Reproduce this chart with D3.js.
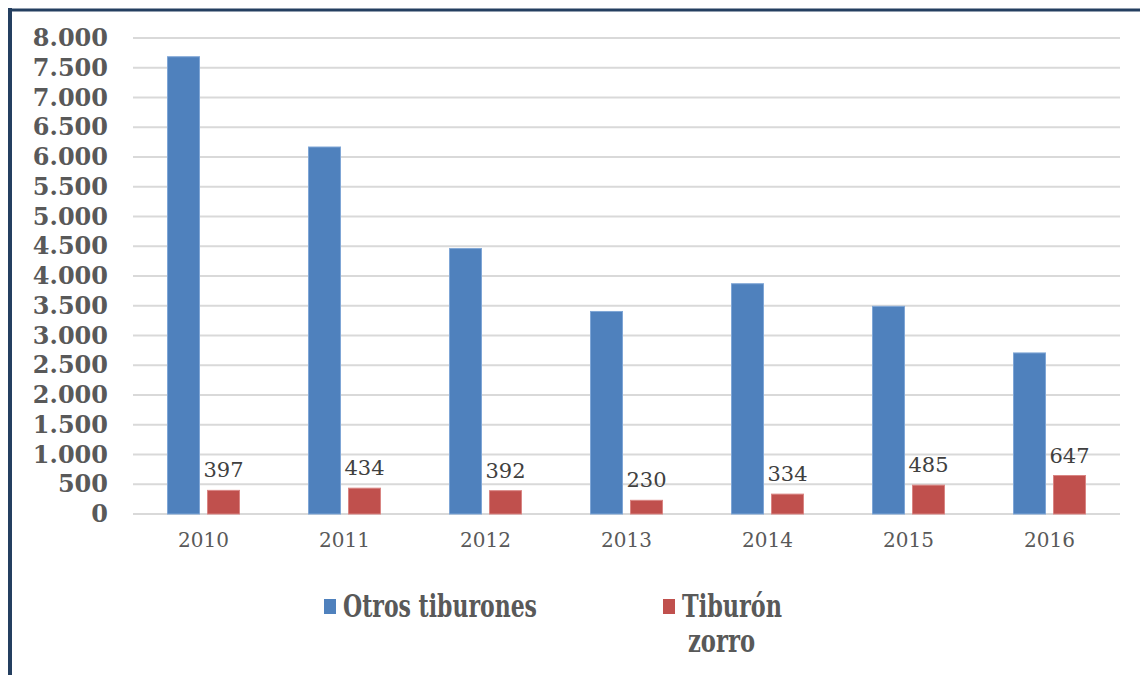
<html>
<head>
<meta charset="utf-8">
<title>Tiburones</title>
<style>
  body { margin: 0; background: #fff; }
  text { font-family: "DejaVu Serif", Georgia, serif; }
</style>
</head>
<body>
<script src="https://cdnjs.cloudflare.com/ajax/libs/d3/7.8.5/d3.min.js"></script>
<script>
var years = ["2010", "2011", "2012", "2013", "2014", "2015", "2016"];
var otros = [7685, 6168, 4461, 3404, 3870, 3490, 2707];
var zorro = [397, 434, 392, 230, 334, 485, 647];
var series = ["Otros tiburones", "Tiburón zorro"];
var colors = ["#4F81BD", "#C0504D"];
var yTicks = [0, 500, 1000, 1500, 2000, 2500, 3000, 3500, 4000, 4500, 5000, 5500, 6000, 6500, 7000, 7500, 8000];

var svg = d3.select("body").append("svg")
    .attr("width", 1140)
    .attr("height", 675);

// frame (dark lines on the left and top)
svg.append("line").attr("x1", 10).attr("y1", 8).attr("x2", 10).attr("y2", 675)
    .attr("stroke", "#243F60").attr("stroke-width", 4);
svg.append("line").attr("x1", 8).attr("y1", 10).attr("x2", 1140).attr("y2", 10)
    .attr("stroke", "#243F60").attr("stroke-width", 3);

var x0 = d3.scaleBand().domain(years).range([133, 1120]);
var x1 = d3.scaleBand().domain(series).range([0, x0.bandwidth()])
    .paddingInner(0.2).paddingOuter(0.8625);
var y = d3.scaleLinear().domain([0, 8000]).range([514, 38]);

// gridlines
svg.append("g").selectAll("line").data(yTicks).enter().append("line")
    .attr("x1", 133).attr("x2", 1120)
    .attr("y1", function(d) { return y(d); })
    .attr("y2", function(d) { return y(d); })
    .attr("stroke", "#D9D9D9").attr("stroke-width", 2);

// y axis labels
var yAxis = d3.axisLeft(y).tickValues(yTicks).tickSize(0).tickPadding(0)
    .tickFormat(function(d) { return d3.format(",")(d).replace(/,/g, "."); });
var gy = svg.append("g").attr("transform", "translate(108,0)").call(yAxis);
gy.select(".domain").remove();
gy.selectAll("text")
    .attr("fill", "#595959").attr("font-size", 24).attr("font-weight", "bold")
    .style("font-family", "'DejaVu Serif', Georgia, serif");

// x axis labels
var xAxis = d3.axisBottom(x0).tickSize(0).tickPadding(0);
var gx = svg.append("g").attr("transform", "translate(0,533)").call(xAxis);
gx.select(".domain").remove();
gx.selectAll("text")
    .attr("fill", "#595959").attr("font-size", 20)
    .style("font-family", "'DejaVu Serif', Georgia, serif");

var rows = years.map(function(yr, i) { return { year: yr, vals: [otros[i], zorro[i]] }; });

var groups = svg.append("g").selectAll("g").data(rows).enter().append("g")
    .attr("transform", function(d) { return "translate(" + x0(d.year) + ",0)"; });

groups.selectAll("rect").data(function(d) {
    return d.vals.map(function(v, j) { return { s: series[j], v: v, c: colors[j] }; });
  }).enter().append("rect")
    .attr("x", function(d) { return x1(d.s); })
    .attr("width", x1.bandwidth())
    .attr("y", function(d) { return y(d.v); })
    .attr("height", function(d) { return y(0) - y(d.v); })
    .attr("fill", function(d) { return d.c; })
    .attr("stroke", function(d, j) { return j === 0 ? "#7FA6D6" : "#D98583"; })
    .attr("stroke-width", 1);

// value labels over the red bars
groups.append("text")
    .attr("x", x1(series[1]) + x1.bandwidth() / 2)
    .attr("y", function(d) { return y(d.vals[1]) - 13; })
    .attr("text-anchor", "middle")
    .attr("fill", "#404040").attr("font-size", 21)
    .text(function(d) { return d.vals[1]; });

// legend
svg.append("rect").attr("x", 324).attr("y", 599).attr("width", 12).attr("height", 15).attr("fill", colors[0]);
svg.append("text").attr("x", 343).attr("y", 617)
    .attr("font-size", 31).attr("font-weight", "bold").attr("fill", "#595959")
    .attr("textLength", 194).attr("lengthAdjust", "spacingAndGlyphs")
    .text("Otros tiburones");

svg.append("rect").attr("x", 663).attr("y", 599).attr("width", 12).attr("height", 15).attr("fill", colors[1]);
svg.append("text").attr("x", 682).attr("y", 617)
    .attr("font-size", 31).attr("font-weight", "bold").attr("fill", "#595959")
    .attr("textLength", 100).attr("lengthAdjust", "spacingAndGlyphs")
    .text("Tiburón");
svg.append("text").attr("x", 688).attr("y", 652)
    .attr("font-size", 31).attr("font-weight", "bold").attr("fill", "#595959")
    .attr("textLength", 67).attr("lengthAdjust", "spacingAndGlyphs")
    .text("zorro");
</script>
</body>
</html>
